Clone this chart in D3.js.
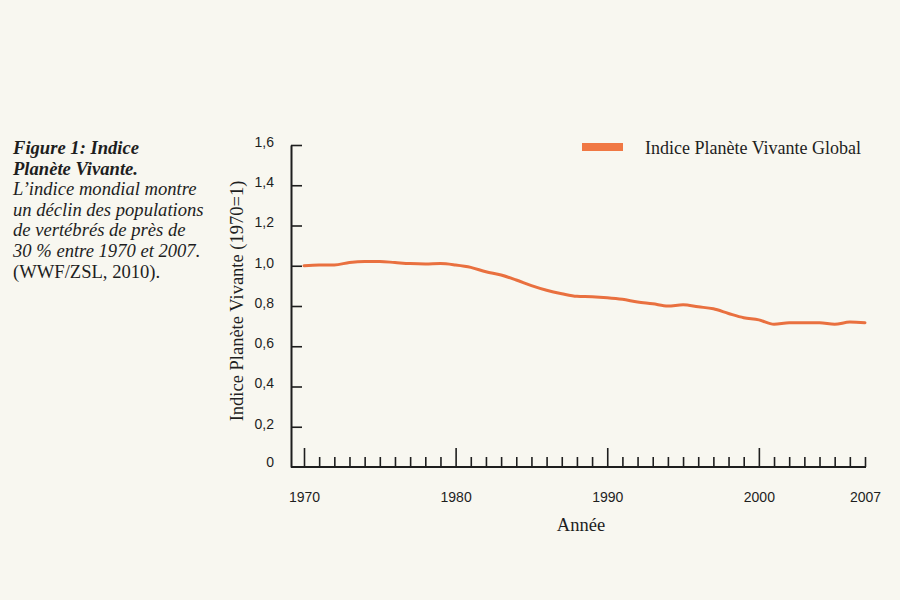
<!DOCTYPE html>
<html>
<head>
<meta charset="utf-8">
<script src="https://cdn.jsdelivr.net/npm/d3@7"></script>
<style>
  body { margin: 0; background: #f8f7f0; }
  svg { display: block; }
</style>
</head>
<body>
<div id="chart"></div>
<script>
// values (index, 1970 = 1)
var years = d3.range(1970, 2008)
var indexValues = [
  1.000, 1.004, 1.004, 1.016, 1.021, 1.021, 1.016, 1.011, 1.009, 1.011,
  1.004, 0.992, 0.970, 0.954, 0.929, 0.901, 0.878, 0.861, 0.848, 0.846,
  0.841, 0.833, 0.820, 0.811, 0.800, 0.806, 0.796, 0.786, 0.763, 0.742,
  0.731, 0.709, 0.717, 0.717, 0.717, 0.709, 0.720, 0.717
]
var yTicks = [0, 0.2, 0.4, 0.6, 0.8, 1.0, 1.2, 1.4, 1.6]
var decadeTicks = [1970, 1980, 1990, 2000]
var yearLabels = [1970, 1980, 1990, 2000, 2007]
var captionLines = [
  { text: "Figure 1: Indice", style: "italic", weight: "bold" },
  { text: "Planète Vivante.", style: "italic", weight: "bold" },
  { text: "L’indice mondial montre", style: "italic", weight: "normal" },
  { text: "un déclin des populations", style: "italic", weight: "normal" },
  { text: "de vertébrés de près de", style: "italic", weight: "normal" },
  { text: "30 % entre 1970 et 2007.", style: "italic", weight: "normal" },
  { text: "(WWF/ZSL, 2010).", style: "normal", weight: "normal" }
]
var seriesName = "Indice Planète Vivante Global"

var dimensions = {
  width: 900,
  height: 600,
  axisX: 291,
  top: 145,
  bottom: 467,
  left: 304,
  right: 865
}

var lineColor = "#e9703f"
var ink = "#1e1e1e"
var serif = "'Liberation Serif', 'DejaVu Serif', serif"
var sans = "'Liberation Sans', Arial, sans-serif"

var fr = d3.formatLocale({ decimal: ",", thousands: " ", grouping: [3], currency: ["", " €"] })

var data = years.map((y, i) => ({ year: y, value: indexValues[i] }))

var svg = d3.select("#chart").append("svg")
  .attr("width", dimensions.width)
  .attr("height", dimensions.height)

svg.append("rect")
  .attr("width", dimensions.width)
  .attr("height", dimensions.height)
  .attr("fill", "#f8f7f0")

var x = d3.scaleLinear()
  .domain([1970, 2007])
  .range([dimensions.left, dimensions.right])

var y = d3.scaleLinear()
  .domain([0, 1.6])
  .range([dimensions.bottom, dimensions.top])

// y axis: ticks point into the plot, labels on the left
var yAxis = svg.append("g")
  .attr("transform", `translate(${dimensions.axisX},0)`)
  .call(d3.axisLeft(y)
    .tickValues(yTicks)
    .tickSizeInner(-11)
    .tickSizeOuter(0)
    .tickPadding(17)
    .tickFormat((d) => d === 0 ? "0" : fr.format(".1f")(d)))

yAxis.select(".domain").attr("stroke", ink).attr("stroke-width", 2)
yAxis.selectAll(".tick line").attr("stroke", ink).attr("stroke-width", 1.6)
yAxis.selectAll(".tick text")
  .attr("fill", ink)
  .attr("font-family", sans)
  .attr("font-size", 14)
  .attr("dy", (d) => d === 0 ? "-0.05em" : "0.1em")
yAxis.selectAll(".tick").filter((d) => d === 0).select("line").remove()

// baseline
svg.append("line")
  .attr("x1", dimensions.axisX)
  .attr("x2", x(2007) + 1)
  .attr("y1", y(0))
  .attr("y2", y(0))
  .attr("stroke", ink)
  .attr("stroke-width", 2)

// minor year ticks
var minorAxis = svg.append("g")
  .attr("transform", `translate(0,${y(0)})`)
  .call(d3.axisBottom(x)
    .tickValues(years.filter((d) => !decadeTicks.includes(d)))
    .tickSize(-10)
    .tickFormat(""))
minorAxis.select(".domain").remove()
minorAxis.selectAll(".tick line").attr("stroke", ink).attr("stroke-width", 1.6)

// decade ticks
var majorAxis = svg.append("g")
  .attr("transform", `translate(0,${y(0)})`)
  .call(d3.axisBottom(x)
    .tickValues(decadeTicks)
    .tickSize(-19)
    .tickFormat(""))
majorAxis.select(".domain").remove()
majorAxis.selectAll(".tick line").attr("stroke", ink).attr("stroke-width", 1.6)

// year labels
var labelAxis = svg.append("g")
  .attr("transform", `translate(0,${y(0)})`)
  .call(d3.axisBottom(x)
    .tickValues(yearLabels)
    .tickSize(0)
    .tickPadding(25)
    .tickFormat(d3.format("d")))
labelAxis.select(".domain").remove()
labelAxis.selectAll(".tick text")
  .attr("fill", ink)
  .attr("font-family", sans)
  .attr("font-size", 14)

// axis titles
svg.append("text")
  .text("Année")
  .attr("x", 581)
  .attr("y", 531)
  .attr("text-anchor", "middle")
  .attr("font-family", serif)
  .attr("font-size", 18.5)
  .attr("fill", ink)

svg.append("text")
  .text("Indice Planète Vivante (1970=1)")
  .attr("transform", "translate(243,301) rotate(-90)")
  .attr("text-anchor", "middle")
  .attr("font-family", serif)
  .attr("font-size", 18.5)
  .attr("fill", ink)

// the series
svg.append("path")
  .datum(data)
  .attr("fill", "none")
  .attr("stroke", lineColor)
  .attr("stroke-width", 3)
  .attr("stroke-linejoin", "round")
  .attr("stroke-linecap", "round")
  .attr("d", d3.line()
    .x((d) => x(d.year))
    .y((d) => y(d.value))
    .curve(d3.curveMonotoneX))

// legend
var legend = svg.append("g").attr("transform", "translate(582,143)")
legend.append("rect")
  .attr("width", 41)
  .attr("height", 8)
  .attr("fill", "#f07844")
legend.append("text")
  .text(seriesName)
  .attr("x", 63)
  .attr("y", 11)
  .attr("font-family", serif)
  .attr("font-size", 18)
  .attr("fill", ink)

// caption on the left
var caption = svg.append("text")
  .attr("x", 13)
  .attr("y", 154)
  .attr("font-family", serif)
  .attr("font-size", 18.6)
  .attr("fill", ink)

caption.selectAll("tspan")
  .data(captionLines)
  .join("tspan")
  .attr("x", 13)
  .attr("dy", (d, i) => i === 0 ? 0 : 20.6)
  .attr("font-style", (d) => d.style)
  .attr("font-weight", (d) => d.weight)
  .text((d) => d.text)
</script>
</body>
</html>
